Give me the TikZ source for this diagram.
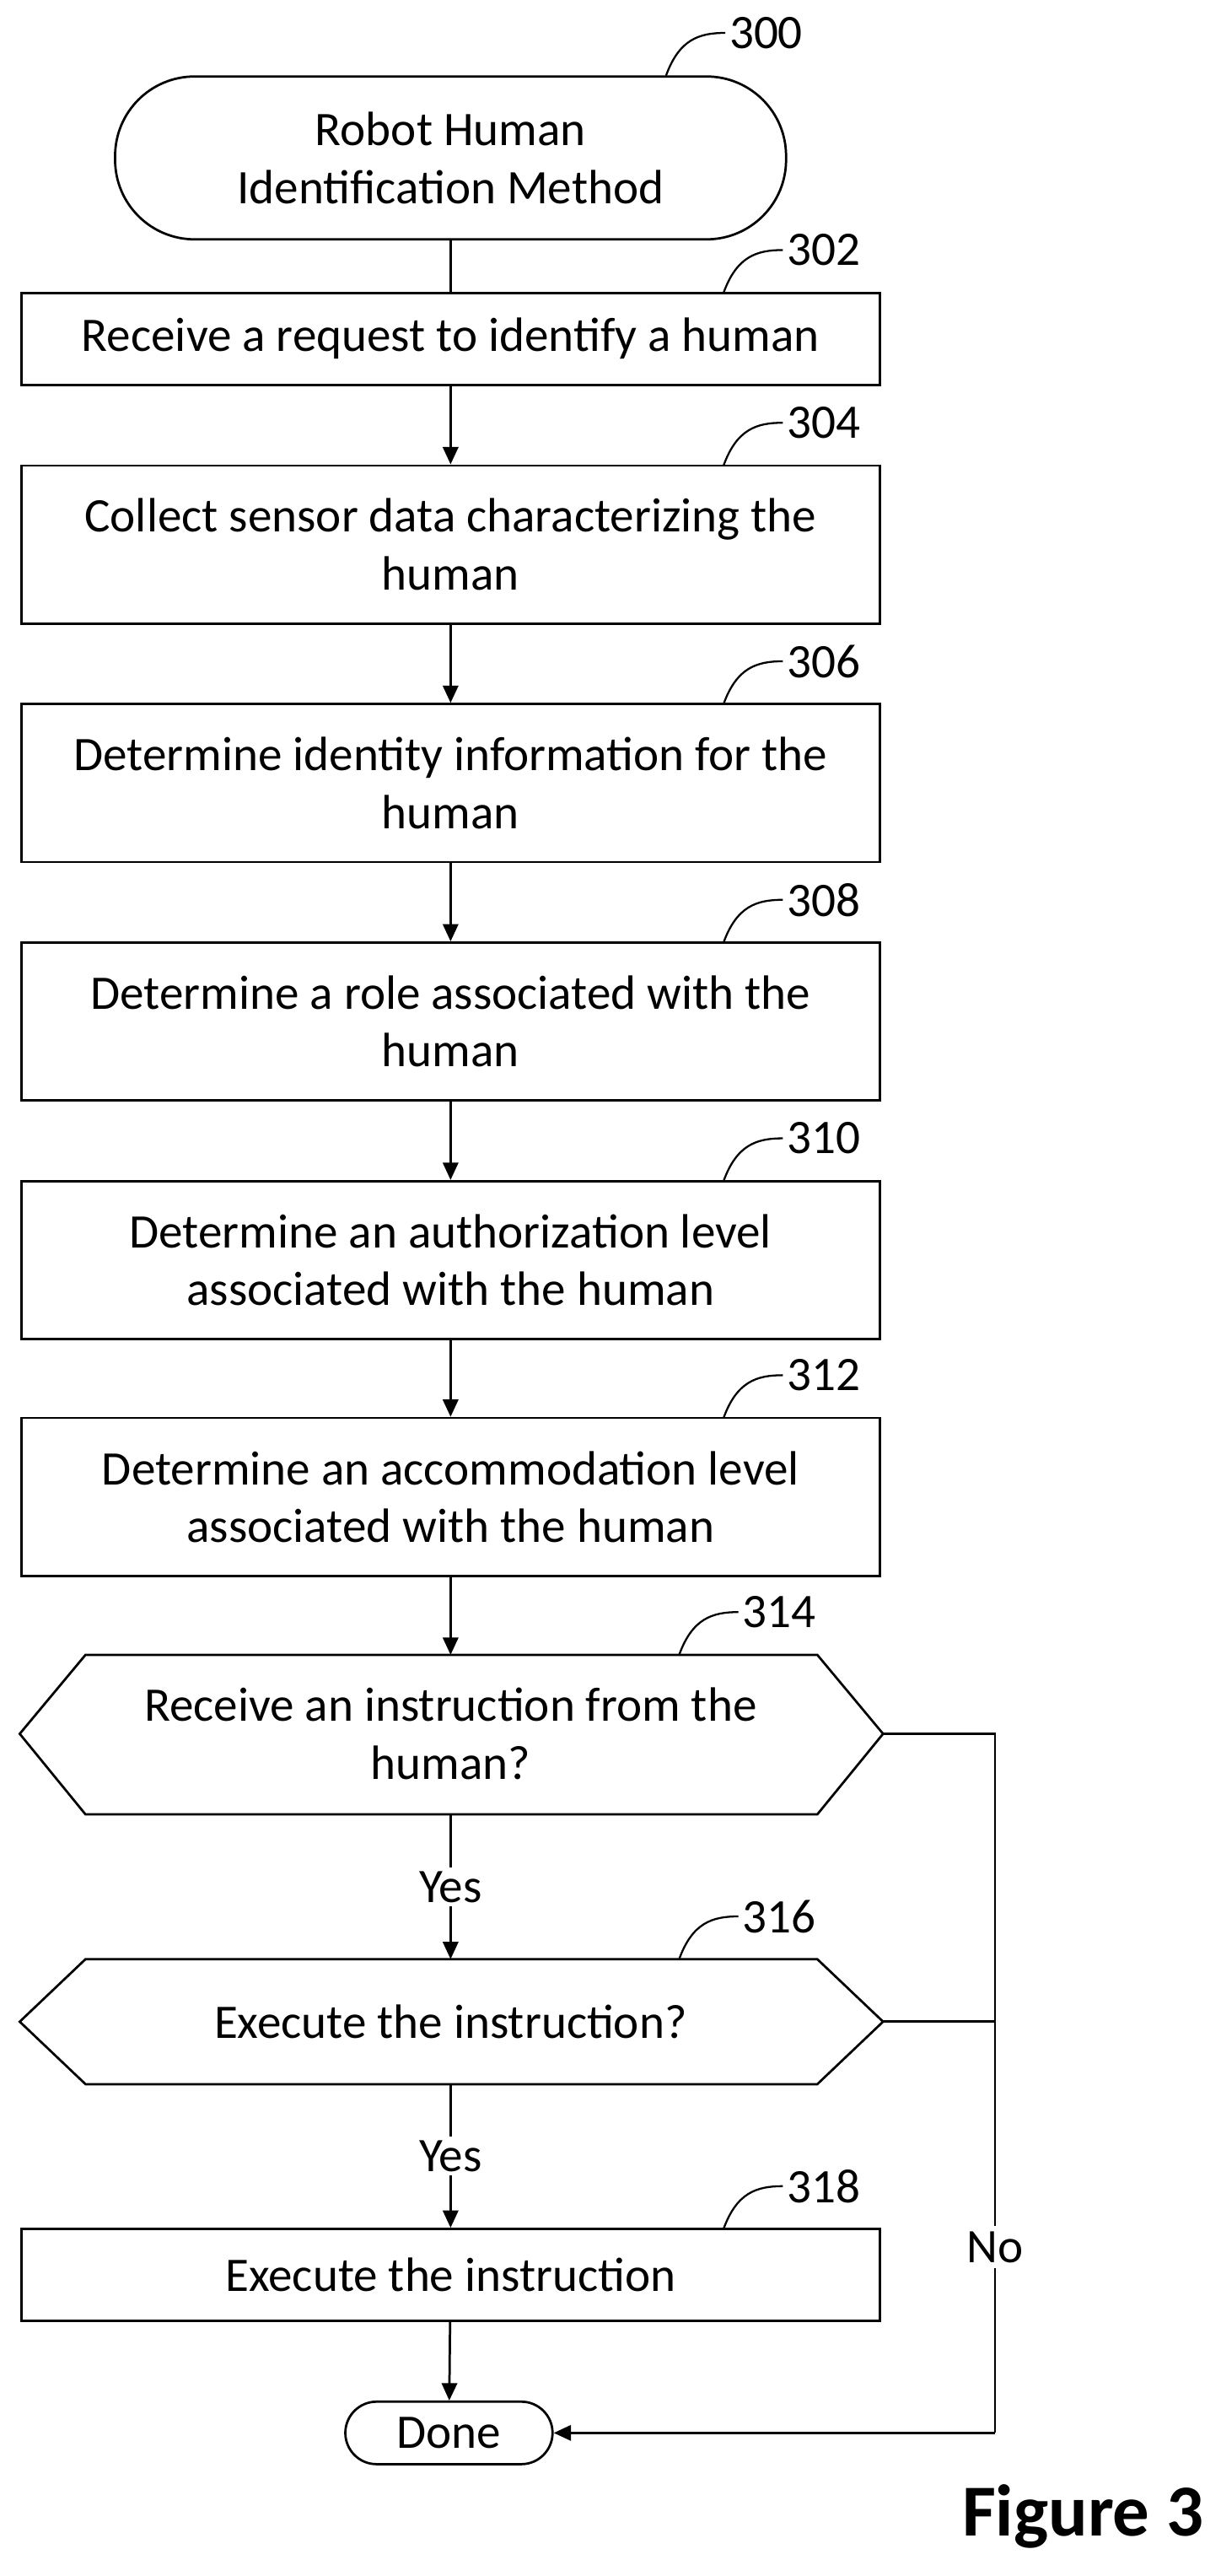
\documentclass[tikz,border=0pt]{standalone}
\usepackage{fontspec}
\setmainfont{Carlito}
\usetikzlibrary{arrows.meta}
\begin{document}
\begin{tikzpicture}[x=0.03cm,y=-0.03cm,
  every node/.style={font=\fontsize{25pt}{30pt}\selectfont},
  box/.style={draw,line width=1.2pt,minimum width=15.66cm,align=center,inner sep=0pt},
  arr/.style={-{Triangle[length=9pt,width=8pt]},line width=1.2pt},
  ln/.style={line width=1.2pt},
  lead/.style={line width=1pt}]
\useasboundingbox (0,0) rectangle (742,1566);
\node[draw,line width=1.2pt,rounded corners=1.45cm,minimum width=12.24cm,minimum height=2.97cm,align=center] (s300) at (274,96) {Robot Human\\Identification Method};
\node[box,minimum height=1.68cm] (b302) at (274,206) {Receive a request to identify a human};
\node[box,minimum height=2.88cm] (b304) at (274,331) {Collect sensor data characterizing the\\human};
\node[box,minimum height=2.88cm] (b306) at (274,476) {Determine identity information for the\\human};
\node[box,minimum height=2.88cm] (b308) at (274,621) {Determine a role associated with the\\human};
\node[box,minimum height=2.88cm] (b310) at (274,766) {Determine an authorization level\\associated with the human};
\node[box,minimum height=2.88cm] (b312) at (274,910) {Determine an accommodation level\\associated with the human};
\draw[ln] (12,1054) -- (52,1006) -- (497,1006) -- (537,1054) -- (497,1103) -- (52,1103) -- cycle;
\node[align=center] (d314) at (274,1054) {Receive an instruction from the\\human?};
\coordinate (d314t) at (274,1006); \coordinate (d314b) at (274,1103); \coordinate (d314r) at (537,1054);
\draw[ln] (12,1229) -- (52,1191) -- (497,1191) -- (537,1229) -- (497,1267) -- (52,1267) -- cycle;
\node (d316) at (274,1229) {Execute the instruction?};
\coordinate (d316t) at (274,1191); \coordinate (d316b) at (274,1267); \coordinate (d316r) at (537,1229);
\node[box,minimum height=1.68cm] (b318) at (274,1383) {Execute the instruction};
\node[draw,line width=1.2pt,rounded corners=0.57cm,minimum width=3.78cm,minimum height=1.14cm,inner sep=0pt] (done) at (273,1479) {Done};
\draw[ln] (s300) -- (b302);
\draw[arr] (b302) -- (b304);
\draw[arr] (b304) -- (b306);
\draw[arr] (b306) -- (b308);
\draw[arr] (b308) -- (b310);
\draw[arr] (b310) -- (b312);
\draw[arr] (b312) -- (d314t);
\draw[arr] (d314b) -- node[fill=white,inner sep=2pt] (y1) {Yes} (d316t);
\draw[arr] (d316b) -- node[fill=white,inner sep=2pt] (y2) {Yes} (b318);
\draw[arr] (b318) -- (done);
\coordinate (rt) at (605,1054); \coordinate (rm) at (605,1229); \coordinate (rb) at (605,1479);
\draw[ln] (d314r) -- (rt) -- (rb);
\draw[ln] (d316r) -- (rm);
\draw[arr] (rb) -- (done);
\node[fill=white,inner sep=3pt] (no) at (605,1366) {No};
\foreach \y/\t/\x in {46/300/405,178/302/440,283/304/440,428/306/440,573/308/440,718/310/440,862/312/440,1006/314/413,1191/316/413,1355/318/440}{
  \draw[lead] (\x,\y) .. controls (\x+8,\y-22) and (\x+20,\y-26) .. (\x+36,\y-26);
  \node[anchor=west,inner sep=2pt] at (\x+36,\y-26) {\t};
}
\node[anchor=east,font=\fontsize{38pt}{44pt}\selectfont\bfseries] (fig) at (736,1530) {Figure 3};
\end{tikzpicture}
\end{document}
